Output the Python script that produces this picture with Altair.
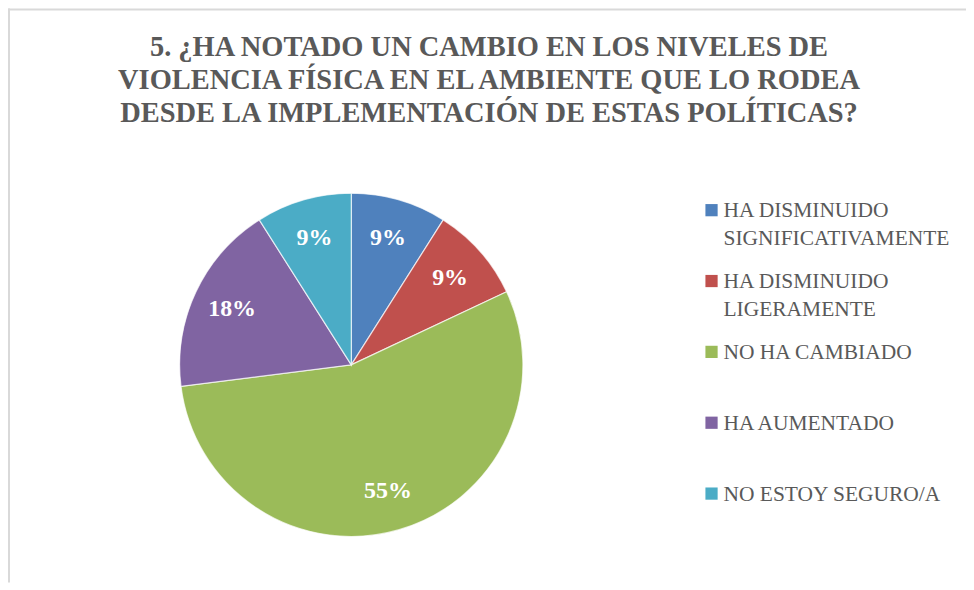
import altair as alt
import pandas as pd

# ---- data ----
categories = [
    "HA DISMINUIDO SIGNIFICATIVAMENTE",
    "HA DISMINUIDO LIGERAMENTE",
    "NO HA CAMBIADO",
    "HA AUMENTADO",
    "NO ESTOY SEGURO/A",
]
legend_labels = [
    "HA DISMINUIDO\nSIGNIFICATIVAMENTE",
    "HA DISMINUIDO\nLIGERAMENTE",
    "NO HA CAMBIADO",
    "HA AUMENTADO",
    "NO ESTOY SEGURO/A",
]
values = [9, 9, 55, 18, 9]
pct_labels = ["9%", "9%", "55%", "18%", "9%"]
colors = ["#4F81BD", "#C0504D", "#9BBB59", "#8064A2", "#4BACC6"]
title_lines = [
    "5. ¿HA NOTADO UN CAMBIO EN LOS NIVELES DE",
    "VIOLENCIA FÍSICA EN EL AMBIENTE QUE LO RODEA",
    "DESDE LA IMPLEMENTACIÓN DE ESTAS POLÍTICAS?",
]

df = pd.DataFrame({
    "cat": categories,
    "legend": legend_labels,
    "value": values,
    "pct": pct_labels,
    "idx": list(range(len(categories))),
})

W, H = 960, 575
CX, CY, R = 344, 357, 172
SERIF = "Liberation Serif, Times New Roman, serif"
GREY = "#595959"

color = alt.Color("cat:N", scale=alt.Scale(domain=categories, range=colors), legend=None)

base = alt.Chart(df)

pie = base.mark_arc(outerRadius=R, stroke="#FFFFFF", strokeWidth=1.2, strokeOpacity=0.7).encode(
    theta=alt.Theta("value:Q", stack=True),
    color=color,
    order=alt.Order("idx:Q"),
    x=alt.value(CX),
    y=alt.value(CY),
)

pie_text = base.mark_text(
    radius=132, font=SERIF, fontSize=24, fontWeight="bold", color="white"
).encode(
    theta=alt.Theta("value:Q", stack=True),
    order=alt.Order("idx:Q"),
    text="pct:N",
    x=alt.value(CX),
    y=alt.value(CY),
)

yscale = alt.Scale(type="point", domain=categories, range=[202, 486], padding=0)

leg_sq = base.mark_square(size=150, opacity=1).encode(
    x=alt.value(705),
    y=alt.Y("cat:N", scale=yscale, axis=None),
    color=color,
)

leg_txt = base.mark_text(
    align="left", baseline="alphabetic", dy=7, lineBreak="\n", lineHeight=28,
    font=SERIF, fontSize=21.5, color=GREY
).encode(
    x=alt.value(717),
    y=alt.Y("cat:N", scale=yscale, axis=None),
    text="legend:N",
)

one = pd.DataFrame({"k": [0]})

title = alt.Chart(one).mark_text(
    align="center", baseline="middle", lineHeight=33,
    font=SERIF, fontSize=28.5, fontWeight="bold", color=GREY
).encode(
    x=alt.value(482),
    y=alt.value(39),
    text=alt.value(title_lines),
)

border_top = alt.Chart(one).mark_rule(color="#D9D9D9", strokeWidth=2).encode(
    x=alt.value(0), x2=alt.value(W), y=alt.value(1)
)
border_left = alt.Chart(one).mark_rule(color="#D9D9D9", strokeWidth=2).encode(
    x=alt.value(1), y=alt.value(0), y2=alt.value(H)
)

chart = alt.layer(
    border_top, border_left, title, pie, pie_text, leg_sq, leg_txt
).properties(
    width=W, height=H, padding=0,
    autosize=alt.AutoSizeParams(type="none"),
    background="white",
).configure_view(stroke=None)

chart.save("out.html", embed_options={"renderer": "svg", "actions": False})
